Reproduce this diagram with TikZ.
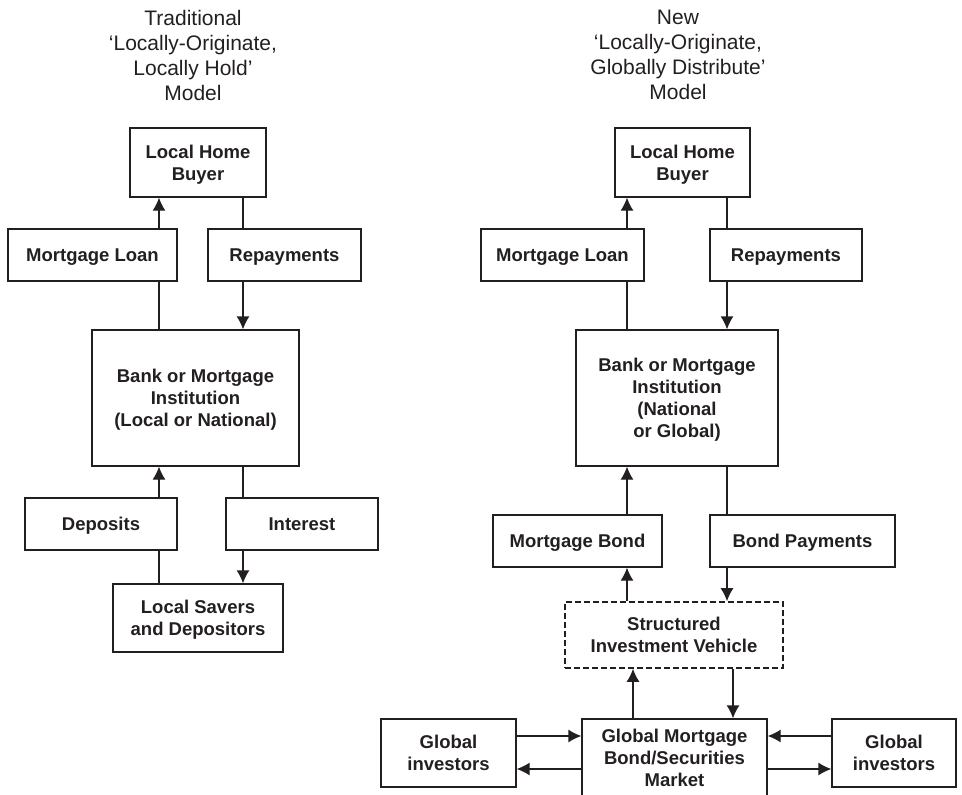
\documentclass[tikz,border=0pt]{standalone}
\usepackage{fontspec}
\setmainfont{Liberation Sans}
\usetikzlibrary{arrows.meta}
\definecolor{ink}{HTML}{231F20}

\begin{document}
\begin{tikzpicture}[x=1pt, y=-1pt, color=ink, line width=1.3pt,
	>={Latex[length=13pt,width=13pt]},
	box/.style={draw, inner sep=0pt, align=center, text depth=0pt,
		font=\fontsize{18.5}{22}\selectfont\bfseries},
	flat/.style={box, minimum height=52pt},
	title/.style={align=center, font=\fontsize{21}{25}\selectfont},
	sivbox/.style={box, line width=1.6pt, dash pattern=on 6pt off 3pt}]
	\useasboundingbox (0,0) rectangle (962,795);
	
	% columns of the flows
	\coordinate (ua) at (159,0);
	\coordinate (da) at (243,0);
	\coordinate (ub) at (627,0);
	\coordinate (db) at (727,0);
	\coordinate (uc) at (633,0);
	\coordinate (dc) at (733,0);
	% rows of the market flows
	\coordinate (hi) at (0,736);
	\coordinate (lo) at (0,769);
	
	% traditional model
	\node[title] (titleA) at (193,55) {Traditional\\‘Locally-Originate,\\Locally Hold’\\Model};
	\node[box, minimum width=136pt, minimum height=69pt] (lhbA) at (198,162.5) {Local Home\\Buyer};
	\node[flat, minimum width=169pt] (loanA) at (92.5,255) {Mortgage Loan};
	\node[flat, minimum width=153pt] (repA) at (284.5,255) {Repayments};
	\node[box, minimum width=207pt, minimum height=136pt] (bankA) at (195.5,398) {Bank or Mortgage\\Institution\\(Local or National)};
	\node[flat, minimum width=152pt] (depA) at (101,524) {Deposits};
	\node[flat, minimum width=152pt] (intA) at (302,524) {Interest};
	\node[box, minimum width=170pt, minimum height=68pt] (savA) at (198,618) {Local Savers\\and Depositors};
	
	\draw[->] (loanA.north -| ua) -- (lhbA.south -| ua);
	\draw (lhbA.south -| da) -- (repA.north -| da);
	\draw (loanA.south -| ua) -- (bankA.north -| ua);
	\draw[->] (repA.south -| da) -- (bankA.north -| da);
	\draw[->] (depA.north -| ua) -- (bankA.south -| ua);
	\draw (bankA.south -| da) -- (intA.north -| da);
	\draw (depA.south -| ua) -- (savA.north -| ua);
	\draw[->] (intA.south -| da) -- (savA.north -| da);
	
	% new model
	\node[title] (titleB) at (678,55) {New\\‘Locally-Originate,\\Globally Distribute’\\Model};
	\node[box, minimum width=135pt, minimum height=69pt] (lhbB) at (682.5,162.5) {Local Home\\Buyer};
	\node[flat, minimum width=163pt] (loanB) at (562.5,255) {Mortgage Loan};
	\node[flat, minimum width=152pt] (repB) at (786,255) {Repayments};
	\node[box, minimum width=202pt, minimum height=136pt] (bankB) at (677,398) {Bank or Mortgage\\Institution\\(National\\or Global)};
	\node[flat, minimum width=169pt] (bondB) at (577.5,541) {Mortgage Bond};
	\node[flat, minimum width=185pt] (payB) at (802.5,541) {Bond Payments};
	\node[sivbox, minimum width=218pt, minimum height=66pt] (sivB) at (674,635) {Structured\\Investment Vehicle};
	\node[box, text depth=4pt, minimum width=185pt, minimum height=82pt] (gmB) at (674.5,760) {Global Mortgage\\Bond/Securities\\Market};
	\node[box, minimum width=135pt, minimum height=68pt] (giL) at (448.5,753) {Global\\investors};
	\node[box, minimum width=124pt, minimum height=68pt] (giR) at (894,753) {Global\\investors};
	
	\draw[->] (loanB.north -| ub) -- (lhbB.south -| ub);
	\draw (lhbB.south -| db) -- (repB.north -| db);
	\draw (loanB.south -| ub) -- (bankB.north -| ub);
	\draw[->] (repB.south -| db) -- (bankB.north -| db);
	\draw[->] (bondB.north -| ub) -- (bankB.south -| ub);
	\draw (bankB.south -| db) -- (payB.north -| db);
	\draw[->] (sivB.north -| ub) -- (bondB.south -| ub);
	\draw[->] (payB.south -| db) -- (sivB.north -| db);
	\draw[->] (gmB.north -| uc) -- (sivB.south -| uc);
	\draw[->] (sivB.south -| dc) -- (gmB.north -| dc);
	
	% market flows
	\draw[->] (giL.east |- hi) -- (gmB.west |- hi);
	\draw[->] (gmB.west |- lo) -- (giL.east |- lo);
	\draw[->] (giR.west |- hi) -- (gmB.east |- hi);
	\draw[->] (gmB.east |- lo) -- (giR.west |- lo);
\end{tikzpicture}
\end{document}
